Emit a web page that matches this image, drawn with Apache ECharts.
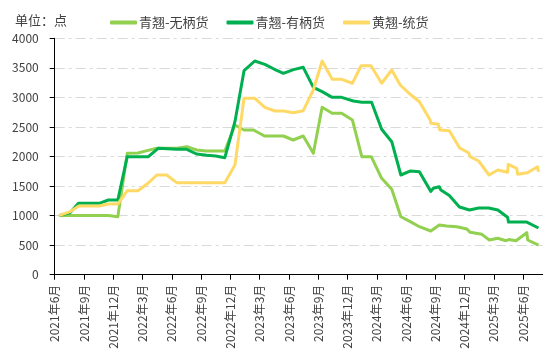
<!DOCTYPE html>
<html><head><meta charset="utf-8">
<script src="https://cdn.jsdelivr.net/npm/echarts@6/dist/echarts.min.js"></script>
<style>html,body{margin:0;padding:0;background:#fff}#c{width:554px;height:357px}</style>
</head><body><div id="c"></div>
<script>
var seriesNames = ['青翘-无柄货', '青翘-有柄货', '黄翘-统货'];
var yTicks = [0, 500, 1000, 1500, 2000, 2500, 3000, 3500, 4000];

var dates1 = ['2021-06-14','2021-07-18','2021-08-14','2021-09-15','2021-10-18','2021-11-16','2021-12-15','2022-01-14','2022-02-17','2022-03-15','2022-04-15','2022-05-18','2022-06-16','2022-07-17','2022-08-17','2022-09-18','2022-10-16','2022-11-14','2022-12-15','2023-01-13','2023-02-12','2023-03-16','2023-04-15','2023-05-14','2023-06-14','2023-07-15','2023-08-16','2023-09-13','2023-10-14','2023-11-13','2023-12-16','2024-01-15','2024-02-14','2024-03-16','2024-04-17','2024-05-15','2024-06-14','2024-07-12','2024-08-17','2024-09-13','2024-10-06','2024-11-07','2024-12-08','2024-12-18','2025-01-24','2025-02-17','2025-03-13','2025-04-08','2025-04-17','2025-05-09','2025-06-12','2025-06-15','2025-07-18'];
var values1 = [1000,1000,1000,1000,1000,1000,980,2054,2060,2100,2139,2139,2139,2166,2110,2093,2093,2093,2533,2448,2448,2347,2347,2347,2279,2347,2054,2832,2731,2731,2618,1997,1997,1631,1445,981,897,812,739,841,824,812,773,717,683,587,616,575,594,575,711,587,502];

var dates2 = ['2021-06-14','2021-07-18','2021-08-14','2021-09-15','2021-10-18','2021-11-16','2021-12-15','2022-01-14','2022-02-15','2022-03-19','2022-04-19','2022-05-18','2022-06-16','2022-07-17','2022-08-17','2022-09-18','2022-10-16','2022-11-14','2022-12-15','2023-01-13','2023-02-16','2023-03-17','2023-04-15','2023-05-14','2023-06-15','2023-07-15','2023-08-16','2023-09-13','2023-10-14','2023-11-13','2023-12-19','2024-01-15','2024-02-15','2024-03-16','2024-04-17','2024-05-15','2024-06-15','2024-07-12','2024-08-17','2024-08-25','2024-09-13','2024-09-18','2024-10-14','2024-11-15','2024-12-16','2025-01-14','2025-02-15','2025-02-19','2025-03-13','2025-04-13','2025-04-16','2025-06-12','2025-07-18'];
var values2 = [1000,1049,1208,1208,1208,1264,1264,1997,1997,1997,2139,2130,2121,2121,2042,2020,2008,1980,2589,3452,3616,3560,3480,3408,3470,3509,3170,3097,3001,3001,2939,2917,2917,2460,2250,1687,1755,1740,1410,1462,1489,1433,1340,1145,1095,1128,1128,1095,1095,971,890,890,790];

var dates3 = ['2021-06-14','2021-07-18','2021-08-15','2021-09-15','2021-10-18','2021-11-16','2021-12-15','2022-01-14','2022-02-17','2022-03-14','2022-04-15','2022-05-15','2022-06-16','2022-07-17','2022-08-17','2022-09-18','2022-10-16','2022-11-14','2022-12-15','2023-01-13','2023-02-16','2023-03-17','2023-04-18','2023-05-15','2023-06-14','2023-07-15','2023-08-16','2023-09-13','2023-10-14','2023-11-13','2023-12-16','2024-01-13','2024-02-13','2024-03-16','2024-04-17','2024-05-13','2024-06-13','2024-07-12','2024-08-15','2024-08-17','2024-09-10','2024-09-15','2024-10-14','2024-11-12','2024-11-17','2024-12-13','2024-12-18','2025-01-14','2025-02-16','2025-03-13','2025-04-13','2025-04-15','2025-05-11','2025-05-14','2025-06-14','2025-07-15','2025-07-18'];
var values3 = [1000,1066,1162,1162,1162,1196,1196,1421,1421,1530,1687,1687,1557,1557,1557,1557,1557,1557,1856,2985,2985,2832,2770,2770,2741,2775,3125,3616,3306,3306,3239,3536,3536,3239,3464,3210,3057,2927,2618,2562,2545,2448,2437,2178,2139,2064,1997,1924,1687,1772,1733,1868,1800,1699,1726,1827,1743];

var xTickMonths = [0,3,6,9,12,15,18,21,24,27,30,33,36,39,42,45,48];

function monthOffset(s) {
  var p = s.split('-');
  return (+p[0] - 2021) * 12 + (+p[1] - 6) + (+p[2] - 1) / 30;
}
function monthLabel(m) {
  var t = Math.round(m) + 5;
  return (2021 + Math.floor(t / 12)) + '年' + (t % 12 + 1) + '月';
}
function pairs(d, v) { return d.map(function (s, i) { return [monthOffset(s), v[i]]; }); }

var colors = ['#92D050', '#00B050', '#FFD966'];
var font = '"Noto Sans CJK SC", sans-serif';
var chart = echarts.init(document.getElementById('c'), null, {renderer: 'canvas'});
var allData = [pairs(dates1, values1), pairs(dates2, values2), pairs(dates3, values3)];
chart.setOption({
  animation: false,
  color: colors,
  title: {text: '单位：点', left: 10, top: 9, textStyle: {fontSize: 13, fontWeight: 'normal', color: '#404040', fontFamily: font}},
  legend: {
    left: 105, top: 11, itemWidth: 27, itemHeight: 4, itemGap: 18, icon: 'roundRect',
    textStyle: {fontSize: 13, color: '#404040', fontFamily: font, padding: [0, 0, 0, -3]},
    data: seriesNames
  },
  grid: {left: 54.7, right: 11.3, top: 38.3, bottom: 82.3, containLabel: false},
  xAxis: {
    type: 'value', min: 0, max: 50,
    axisLine: {lineStyle: {color: '#000', width: 1}},
    axisTick: {show: true, length: 5, customValues: xTickMonths, lineStyle: {color: '#000'}},
    axisLabel: {customValues: xTickMonths, rotate: 90, margin: 10, fontSize: 12, color: '#404040', fontFamily: font, formatter: monthLabel},
    splitLine: {show: false}
  },
  yAxis: {
    type: 'value', min: yTicks[0], max: yTicks[yTicks.length - 1], interval: 500,
    axisLine: {show: true, lineStyle: {color: '#000', width: 1}},
    axisTick: {show: true, length: 5, lineStyle: {color: '#000'}},
    axisLabel: {margin: 16, fontSize: 12, color: '#404040', fontFamily: font, formatter: function (v) { return String(v); }},
    splitLine: {show: true, lineStyle: {color: '#d9d9d9', width: 1, type: [10, 4, 3, 4]}}
  },
  series: seriesNames.map(function (n, i) {
    return {name: n, type: 'line', data: allData[i], showSymbol: false, symbol: 'none',
      lineStyle: {width: 3, color: colors[i], join: 'round'}, z: 2 + i};
  })
});
</script></body></html>
